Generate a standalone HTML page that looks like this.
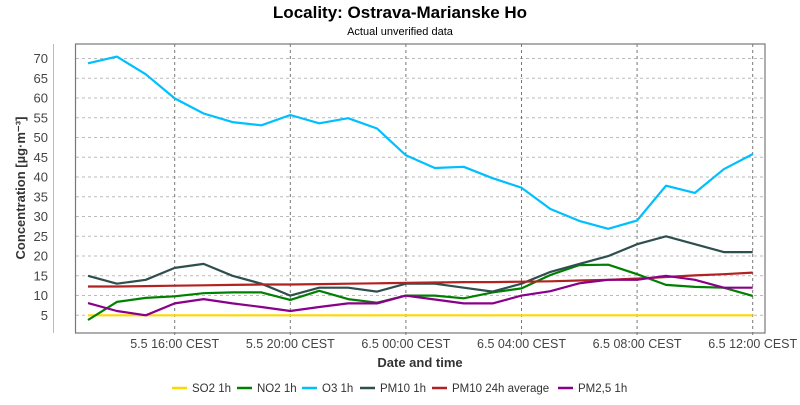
<!DOCTYPE html>
<html><head><meta charset="utf-8"><style>
body{margin:0;background:#fff;font-family:"Liberation Sans",sans-serif;}
svg text{font-family:"Liberation Sans",sans-serif;}
</style></head><body>
<svg id="chart" width="800" height="400" xmlns="http://www.w3.org/2000/svg">
<rect width="800" height="400" fill="#fff"/>
<text x="400" y="18" text-anchor="middle" font-size="17" font-weight="bold" fill="#000">Locality: Ostrava-Marianske Ho</text>
<text x="400" y="35" text-anchor="middle" font-size="11" fill="#000">Actual unverified data</text>
<g id="grid"></g>
<rect x="75.5" y="44" width="689.5" height="289" fill="none" stroke="#777" stroke-width="1.2"/>
<line x1="53.5" x2="53.5" y1="44" y2="333" stroke="#bbb" stroke-width="1"/>
<g id="yticks"></g><g id="xticks"></g><g id="series"></g>
<text transform="translate(25,188) rotate(-90)" text-anchor="middle" font-size="13" font-weight="bold" fill="#333">Concentration [µg·m⁻³]</text>
<text x="420" y="367" text-anchor="middle" font-size="13" font-weight="bold" fill="#333">Date and time</text>
<g id="legend"></g>
</svg>
<script>
const hours=[13,14,15,16,17,18,19,20,21,22,23,24,25,26,27,28,29,30,31,32,33,34,35,36];
const so2=[5,5,5,5,5,5,5,5,5,5,5,5,5,5,5,5,5,5,5,5,5,5,5,5];
const no2=[3.8,8.4,9.4,9.8,10.6,10.8,10.8,8.9,11.2,9.1,8.2,10,10,9.3,10.8,11.8,15.2,17.7,17.8,15.4,12.7,12.2,12,9.9];
const o3=[68.8,70.5,66,59.9,56.1,53.9,53.1,55.7,53.6,54.9,52.3,45.5,42.3,42.6,39.7,37.3,31.9,28.9,26.9,29,37.8,36,42,45.8];
const pm10=[15,13,14,17,18,15,13,10,12,12,11,13,13,12,11,13,16,18,20,23,25,23,21,21];
const pm10avg=[12.3,12.3,12.4,12.5,12.6,12.7,12.8,12.8,12.9,13.0,13.1,13.2,13.3,13.4,13.4,13.5,13.6,13.8,14.0,14.3,14.7,15.1,15.4,15.8];
const pm25=[8.1,6.1,5,8,9.1,8,7.1,6.1,7.1,8,8,10,9,8,8,10,11.1,13.1,14,14,15,14,12,12];
const yTicks=[5,10,15,20,25,30,35,40,45,50,55,60,65,70];
const xTickHours=[16,20,24,28,32,36];
const xTickLabels=["5.5 16:00 CEST","5.5 20:00 CEST","6.5 00:00 CEST","6.5 04:00 CEST","6.5 08:00 CEST","6.5 12:00 CEST"];
const seriesNames=["SO2 1h","NO2 1h","O3 1h","PM10 1h","PM10 24h average","PM2,5 1h"];
const seriesColors=["#ffd700","#008000","#00bfff","#2f4f4f","#b22222","#8b008b"];
const seriesData=[so2,no2,o3,pm10,pm10avg,pm25];
const legendX=[172,237,302,360,432,558];

const NS="http://www.w3.org/2000/svg";
function X(h){return 174.7+(h-16)*28.9;}
function Y(v){return 315.3-(v-5)*3.95;}
function mk(tag,attrs,parent){const e=document.createElementNS(NS,tag);for(const k in attrs)e.setAttribute(k,attrs[k]);parent.appendChild(e);return e;}
const grid=document.getElementById('grid'),yt=document.getElementById('yticks'),xt=document.getElementById('xticks'),sg=document.getElementById('series'),lg=document.getElementById('legend');
yTicks.forEach(v=>{
  const l=mk('line',{x1:76,x2:765,y1:Y(v),y2:Y(v),stroke:'#bbb','stroke-dasharray':'3,3','stroke-width':1},grid);
  
  
  const t=mk('text',{x:48,y:Y(v)+4.5,'text-anchor':'end','font-size':13,fill:'#444'},yt);
  t.textContent=v;
  
  
});
xTickHours.forEach((h,i)=>{
  const l=mk('line',{x1:X(h),x2:X(h),y1:44,y2:338,stroke:'#777','stroke-dasharray':'3,3','stroke-width':1},grid);
  
  
  const t=mk('text',{x:X(h),y:348,'text-anchor':'middle','font-size':12.5,fill:'#444'},xt);
  t.textContent=xTickLabels[i];
  
  
});
seriesData.forEach((d,i)=>{
  const pts=d.map((v,j)=>X(hours[j]).toFixed(1)+','+Y(v).toFixed(1)).join(' ');
  const p=mk('polyline',{points:pts,fill:'none',stroke:seriesColors[i],'stroke-width':2.2,'stroke-linejoin':'round'},sg);
  
  
  const g=mk('g',{},lg);
  
  
  mk('line',{x1:legendX[i],x2:legendX[i]+15,y1:388,y2:388,stroke:seriesColors[i],'stroke-width':2.5},g);
  const t=mk('text',{x:legendX[i]+20,y:392,'font-size':11.5,fill:'#333'},g);
  t.textContent=seriesNames[i];
});
</script>
</body></html>
